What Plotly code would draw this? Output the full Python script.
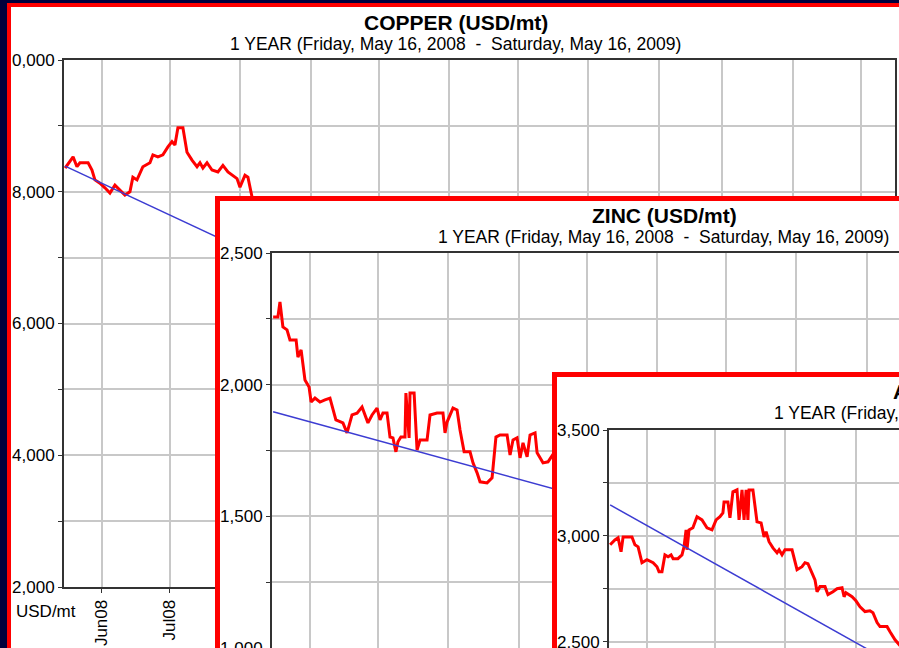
import pandas as pd
import plotly.graph_objects as go

# ---------------- data ----------------
START_DATE = "2008-05-16"
END_DATE = "2009-05-16"

# days since Friday, May 16, 2008
copper_day = [0, 3.5, 5.2, 6.5, 10.1, 11.8, 13.1, 15.3, 17.5, 19.7,
              21.9, 24.1, 26.3, 28.5, 29.8, 31.6, 34.2, 37.3, 38.6, 40.8,
              43.0, 45.2, 47.0, 48.3, 49.6, 51.8, 53.6, 55.8, 58.0, 59.3,
              60.6, 62.4, 64.6, 67.2, 69.4, 71.6, 73.4, 75.6, 76.9, 79.1,
              80.4, 82.2,
              90, 100, 110, 120, 130, 140, 150, 160, 170, 180, 195, 210, 225,
              240, 255, 270, 285, 300, 315, 330, 345, 360, 365]
copper_usd = [8360, 8530, 8380, 8440, 8440, 8330, 8180, 8130, 8060, 7980,
              8100, 8030, 7950, 8000, 8220, 8180, 8380, 8440, 8560, 8530,
              8560, 8680, 8760, 8710, 8970, 8970, 8600, 8480, 8380, 8440,
              8360, 8440, 8330, 8300, 8400, 8300, 8250, 8200, 8070, 8250,
              8220, 7920,
              7500, 7450, 7300, 6900, 6400, 5900, 5000, 4700, 4200, 3700, 3300, 3000, 3100,
              3200, 3300, 3700, 3900, 4000, 4500, 4400, 4300, 4600, 4500]
copper_trend_day = [0, 365]
copper_trend_usd = [8390, 2500]

zinc_day = [0, 2.1, 3.0, 4.3, 6.1, 7.4, 10.1, 10.9, 12.3, 14.0,
            15.8, 16.7, 18.4, 20.6, 22.8, 25.0, 27.6, 30.7, 32.5, 34.7,
            36.9, 39.1, 41.7, 43.5, 45.7, 47.0, 48.3, 50.1, 51.4, 52.7,
            54.0, 54.9, 56.2, 58.0, 58.4, 59.8, 60.2, 62.0, 63.3, 64.6,
            67.7, 69.0, 72.1, 74.7, 75.6, 76.5, 79.1, 80.9, 82.2, 84.0,
            86.6, 87.9, 89.7, 91.0, 94.1, 96.3, 98.0, 99.8, 102.9, 104.2,
            105.5, 107.3, 108.6, 109.9, 111.7, 113.0, 115.2, 116.1, 118.7, 120.9,
            125, 135, 140, 150, 160, 170, 185, 200, 215, 230, 245, 260, 275,
            290, 305, 320, 335, 350, 365]
zinc_usd = [2257, 2257, 2314, 2219, 2208, 2170, 2170, 2105, 2132, 2018,
            1991, 1934, 1949, 1934, 1942, 1949, 1866, 1855, 1817, 1885,
            1892, 1915, 1855, 1885, 1911, 1866, 1892, 1892, 1801, 1798,
            1745, 1783, 1801, 1801, 1968, 1798, 1968, 1968, 1752, 1790,
            1790, 1885, 1892, 1892, 1817, 1858, 1911, 1904, 1828, 1745,
            1745, 1703, 1665, 1631, 1627, 1646, 1801, 1809, 1809, 1733,
            1790, 1798, 1722, 1779, 1726, 1809, 1817, 1741, 1703, 1707,
            1760, 1700, 1600, 1300, 1200, 1150, 1150, 1100, 1150, 1150, 1200, 1150, 1100,
            1200, 1300, 1350, 1450, 1500, 1480]
zinc_trend_day = [0, 365]
zinc_trend_usd = [1897, 1032]

alu_day = [0, 2.1, 3.5, 4.8, 5.7, 9.6, 10.9, 12.3, 14.0, 16.2,
           18.9, 20.6, 21.5, 22.8, 24.1, 25.5, 26.8, 27.7, 29.8, 31.6,
           32.5, 33.4, 33.8, 34.7, 36.4, 38.2, 40.4, 42.6, 44.8, 46.6,
           48.3, 49.6, 50.1, 51.8, 52.7, 54.0, 55.8, 56.7, 58.0, 58.9,
           59.8, 60.6, 61.1, 62.8, 64.6, 66.4, 67.7, 68.6, 69.9, 71.6,
           73.4, 74.3, 75.6, 76.9, 80.0, 80.9, 82.2, 84.4, 85.7, 87.0,
           88.8, 90.1, 91.0, 92.3, 94.5, 95.8, 98.0, 99.8, 102.0, 102.9,
           103.7, 106.4, 108.1, 109.9, 112.1, 114.3, 115.6, 117.4, 118.7, 121.8,
           123.1, 125.3,
           130, 140, 150, 160, 170, 180, 195, 210, 225, 240, 255, 270, 285,
           300, 315, 330, 345, 360, 365]
alu_usd = [2958, 2981, 2991, 2925, 2995, 2995, 2958, 2948, 2873, 2887,
           2873, 2854, 2830, 2830, 2910, 2901, 2910, 2892, 2892, 2910,
           2948, 3028, 2934, 3028, 3038, 3090, 3075, 3038, 3028, 3075,
           3090, 3108, 3160, 3160, 3085, 3208, 3217, 3075, 3217, 3075,
           3217, 3075, 3217, 3217, 3066, 3061, 2995, 3019, 2972, 2943,
           2920, 2934, 2910, 2934, 2934, 2896, 2840, 2854, 2873, 2868,
           2826, 2792, 2736, 2760, 2760, 2722, 2736, 2750, 2755, 2712,
           2731, 2712, 2693, 2665, 2642, 2646, 2637, 2590, 2571, 2571,
           2547, 2509,
           2450, 2420, 2300, 2150, 2000, 1900, 1800, 1600, 1450, 1450, 1350, 1300, 1350,
           1400, 1400, 1450, 1430, 1450, 1460]
alu_trend_day = [0, 365]
alu_trend_usd = [3146, 948]

copper_yticks = [2000, 3000, 4000, 5000, 6000, 7000, 8000, 9000, 10000]
copper_yticklabels = ["2,000", "", "4,000", "", "6,000", "", "8,000", "", "0,000"]
zinc_yticks = [1000, 1250, 1500, 1750, 2000, 2250, 2500]
zinc_yticklabels = ["1,000", "", "1,500", "", "2,000", "", "2,500"]
alu_yticks = [1000, 1250, 1500, 1750, 2000, 2250, 2500, 2750, 3000, 3250, 3500]
alu_yticklabels = ["1,000", "", "1,500", "", "2,000", "", "2,500", "", "3,000", "", "3,500"]

titles = ["COPPER (USD/mt)", "ZINC (USD/mt)", "ALUMINIUM (USD/mt)"]
subtitle = "1 YEAR (Friday, May 16, 2008  -  Saturday, May 16, 2009)"
unit_label = "USD/mt"

# ---------------- layout geometry (pixels) ----------------
W, H = 899, 648
PLOT_W, PLOT_H = 831, 527
NAVY = "#00003C"
RED = "#FF0000"
GRID = "#C8C8C8"
AXIS = "#333333"
BLUE = "#3C3CD2"
FONT = "Liberation Sans, Arial, sans-serif"
TITLE_SIZE = 21
SUB_SIZE = 17.5
TICK_SIZE = 17

panels = [
    dict(day=copper_day, val=copper_usd, tday=copper_trend_day, tval=copper_trend_usd,
         yr=(2000, 10000), yt=copper_yticks, ytt=copper_yticklabels,
         box=(7, 3), plot=(64, 60), title_c=(456, 22), sub_c=(455, 44)),
    dict(day=zinc_day, val=zinc_usd, tday=zinc_trend_day, tval=zinc_trend_usd,
         yr=(500, 2500), yt=zinc_yticks, ytt=zinc_yticklabels,
         box=(215, 196), plot=(272, 253), title_c=(664, 215), sub_c=(663, 237)),
    dict(day=alu_day, val=alu_usd, tday=alu_trend_day, tval=alu_trend_usd,
         yr=(1000, 3500), yt=alu_yticks, ytt=alu_yticklabels,
         box=(552, 372), plot=(609, 430), title_c=(1001, 391), sub_c=(1000, 413)),
]

start = pd.Timestamp(START_DATE)
x0 = start - pd.Timedelta(hours=12)
x1 = pd.Timestamp(END_DATE)


def fmt(ts):
    return ts.strftime("%Y-%m-%d %H:%M:%S")


def to_dates(days):
    return [fmt(start + pd.Timedelta(days=d)) for d in days]


fig = go.Figure()
layout = dict(
    width=W, height=H, autosize=False,
    margin=dict(l=0, r=0, t=0, b=0, pad=0),
    paper_bgcolor=NAVY, plot_bgcolor="rgba(0,0,0,0)",
    showlegend=False,
    font=dict(family=FONT, size=TICK_SIZE, color="#000000"),
)
shapes = []
annotations = []
tickfont = dict(family=FONT, size=TICK_SIZE, color="#000000")


def ids(k):
    return (f"x{k}" if k > 1 else "x", f"y{k}" if k > 1 else "y",
            f"xaxis{k}" if k > 1 else "xaxis", f"yaxis{k}" if k > 1 else "yaxis")


n = 0
for i, p in enumerate(panels):
    bx, by = p["box"]
    if i == 0:
        shapes.append(dict(type="rect", xref="paper", yref="paper", layer="below",
                           x0=(bx + 2) / W, x1=1.05, y0=-0.05, y1=1 - (by + 2) / H,
                           fillcolor="white", line=dict(color=RED, width=4)))
    else:
        # cover subplot: opaque white panel with a red frame, drawn above earlier panels
        n += 1
        cx, cy, kx, ky = ids(n)
        cw, ch = W - bx, H - by
        layout[kx] = dict(domain=[bx / W, 1], anchor=cy, range=[0, cw], visible=False,
                          fixedrange=True, showgrid=False, zeroline=False)
        layout[ky] = dict(domain=[0, 1 - by / H], anchor=cx, range=[ch, 0], visible=False,
                          fixedrange=True, showgrid=False, zeroline=False)
        fig.add_trace(go.Scatter(x=[], y=[], xaxis=cx, yaxis=cy, mode="lines",
                                 hoverinfo="skip", showlegend=False))
        shapes.append(dict(type="rect", xref=cx, yref=cy, layer="below",
                           x0=2.5, y0=2.5, x1=cw + 20, y1=ch + 20,
                           fillcolor="white", line=dict(color=RED, width=5)))

    # data subplot
    n += 1
    dx, dy, kx, ky = ids(n)
    left, top = p["plot"]
    right_px = min(left + PLOT_W, W)
    bot_px = min(top + PLOT_H, H)
    full = (right_px == left + PLOT_W) and (bot_px == top + PLOT_H)
    fx = (right_px - left) / PLOT_W
    x_end = x0 + (x1 - x0) * fx
    ymin, ymax = p["yr"]
    y_lo = ymax - (bot_px - top) / PLOT_H * (ymax - ymin)
    y_lo = round(y_lo / 10) * 10

    layout[kx] = dict(
        domain=[left / W, right_px / W], anchor=dy, type="date",
        range=[fmt(x0), fmt(x_end)], fixedrange=True, automargin=False,
        showgrid=True, gridcolor=GRID, gridwidth=2, zeroline=False,
        tick0="2008-06-01", dtick="M1", tickformat="%b%y", tickangle=-90,
        ticks="outside" if full else "", ticklen=4, tickwidth=1, tickcolor=AXIS,
        showline=True, linecolor=AXIS, linewidth=2, mirror=full,
        side="bottom" if full else "top", showticklabels=full, tickfont=tickfont,
        ticklabeloverflow="allow",
    )
    layout[ky] = dict(
        domain=[1 - bot_px / H, 1 - top / H], anchor=dx,
        range=[y_lo, ymax], fixedrange=True, automargin=False,
        tickmode="array", tickvals=p["yt"], ticktext=p["ytt"],
        showgrid=True, gridcolor=GRID, gridwidth=2, zeroline=False,
        ticks="outside", ticklen=4, tickwidth=1, tickcolor=AXIS,
        showline=True, linecolor=AXIS, linewidth=2, mirror=full, tickfont=tickfont,
        ticklabeloverflow="allow",
    )
    fig.add_trace(go.Scatter(x=to_dates(p["day"]), y=p["val"], xaxis=dx, yaxis=dy,
                             mode="lines", line=dict(color=RED, width=3),
                             hoverinfo="skip", showlegend=False))
    fig.add_trace(go.Scatter(x=to_dates(p["tday"]), y=p["tval"], xaxis=dx, yaxis=dy,
                             mode="lines", line=dict(color=BLUE, width=1.5),
                             hoverinfo="skip", showlegend=False))

    tx, ty = p["title_c"]
    sx, sy = p["sub_c"]
    annotations.append(dict(xref="paper", yref="paper", x=tx / W, y=1 - ty / H,
                            text=titles[i], showarrow=False, xanchor="center", yanchor="middle",
                            font=dict(family=FONT, size=TITLE_SIZE, color="#000000", weight="bold")))
    annotations.append(dict(xref="paper", yref="paper", x=sx / W, y=1 - sy / H,
                            text=subtitle, showarrow=False, xanchor="center", yanchor="middle",
                            font=dict(family=FONT, size=SUB_SIZE, color="#000000")))

annotations.append(dict(xref="paper", yref="paper", x=14 / W, y=1 - 611 / H,
                        text=unit_label, showarrow=False, xanchor="left", yanchor="middle",
                        font=dict(family=FONT, size=TICK_SIZE, color="#000000")))

layout["shapes"] = shapes
layout["annotations"] = annotations
fig.update_layout(**layout)
fig.write_html(
    "out.html",
    config={"displayModeBar": False},
    post_script="document.body.style.margin='0px';document.body.style.background='" + NAVY + "';",
)
